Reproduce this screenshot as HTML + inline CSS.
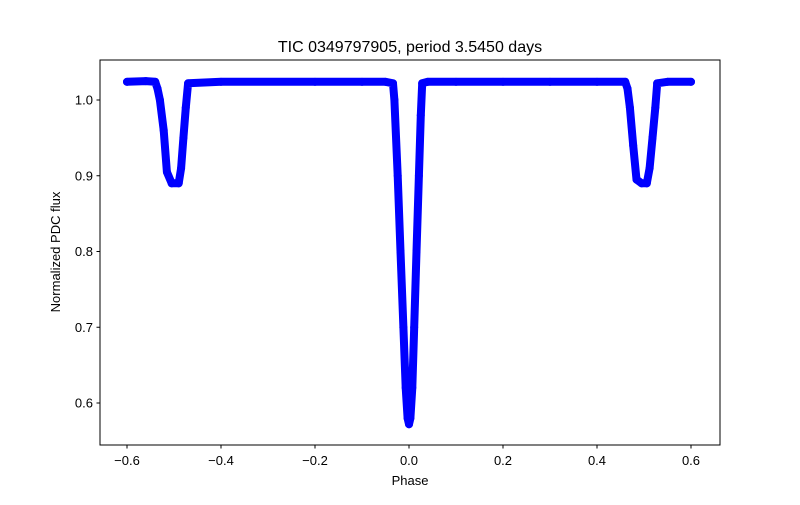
<!DOCTYPE html>
<html><head><meta charset="utf-8"><style>
body{margin:0;background:#fff}
text{font-family:"Liberation Sans","DejaVu Sans",sans-serif;fill:#000}
</style></head><body>
<svg id="chart" width="800" height="500" xmlns="http://www.w3.org/2000/svg">
<rect width="800" height="500" fill="#fff"/>
<text x="410" y="52" font-size="16" text-anchor="middle">TIC 0349797905, period 3.5450 days</text>
<g id="plot"></g>
<rect x="100" y="60" width="620" height="385" fill="none" stroke="#000" stroke-width="1"/>
<g id="axes"></g>
<text x="410" y="485" font-size="13" text-anchor="middle">Phase</text>
<text transform="translate(60,252) rotate(-90)" font-size="13" text-anchor="middle">Normalized PDC flux</text>
</svg>
<script>
const phase = [-0.6,-0.56,-0.54,-0.535,-0.53,-0.522,-0.515,-0.505,-0.49,-0.485,-0.48,-0.475,-0.47,-0.4,-0.2,-0.1,-0.05,-0.034,-0.031,-0.024,-0.018,-0.012,-0.007,-0.003,0,0.003,0.007,0.011,0.016,0.021,0.025,0.028,0.04,0.1,0.2,0.3,0.4,0.46,0.465,0.47,0.477,0.484,0.495,0.506,0.512,0.518,0.524,0.528,0.55,0.6];
const flux = [1.024,1.025,1.024,1.015,1.0,0.96,0.905,0.89,0.89,0.91,0.95,0.99,1.022,1.024,1.024,1.024,1.024,1.022,1.0,0.9,0.8,0.7,0.62,0.58,0.572,0.58,0.62,0.7,0.8,0.9,0.98,1.022,1.024,1.024,1.024,1.024,1.024,1.024,1.015,0.99,0.94,0.895,0.89,0.89,0.91,0.95,0.99,1.022,1.024,1.024];
const xTicks = [-0.6,-0.4,-0.2,0.0,0.2,0.4,0.6];
const xTickLabels = ["−0.6","−0.4","−0.2","0.0","0.2","0.4","0.6"];
const yTicks = [0.6,0.7,0.8,0.9,1.0];
const yTickLabels = ["0.6","0.7","0.8","0.9","1.0"];
const X = v => 409 + v*470;
const Y = v => 100 - (v-1.0)*757.5;
const NS="http://www.w3.org/2000/svg";
const plot=document.getElementById('plot'), axes=document.getElementById('axes');
let d=phase.map((p,i)=>(i?'L':'M')+X(p).toFixed(1)+' '+Y(flux[i]).toFixed(1)).join(' ');
const path=document.createElementNS(NS,'path');
path.setAttribute('d',d);path.setAttribute('fill','none');path.setAttribute('stroke','#0000ff');
path.setAttribute('stroke-width','8');path.setAttribute('stroke-linejoin','round');path.setAttribute('stroke-linecap','round');


plot.appendChild(path);
phase.forEach((p,i)=>{const c=document.createElementNS(NS,'circle');
c.setAttribute('cx',X(p));c.setAttribute('cy',Y(flux[i]));c.setAttribute('r',4);c.setAttribute('fill','#0000ff');


plot.appendChild(c);});
xTicks.forEach((t,i)=>{const l=document.createElementNS(NS,'line');
l.setAttribute('x1',X(t));l.setAttribute('x2',X(t));l.setAttribute('y1',445);l.setAttribute('y2',448.5);l.setAttribute('stroke','#000');


axes.appendChild(l);
const tx=document.createElementNS(NS,'text');tx.setAttribute('x',X(t));tx.setAttribute('y',465);tx.setAttribute('font-size','13');tx.setAttribute('text-anchor','middle');tx.textContent=xTickLabels[i];


axes.appendChild(tx);});
yTicks.forEach((t,i)=>{const l=document.createElementNS(NS,'line');
l.setAttribute('x1',96.5);l.setAttribute('x2',100);l.setAttribute('y1',Y(t));l.setAttribute('y2',Y(t));l.setAttribute('stroke','#000');


axes.appendChild(l);
const tx=document.createElementNS(NS,'text');tx.setAttribute('x',93);tx.setAttribute('y',Y(t)+4.5);tx.setAttribute('font-size','13');tx.setAttribute('text-anchor','end');tx.textContent=yTickLabels[i];


axes.appendChild(tx);});
</script>
</body></html>
